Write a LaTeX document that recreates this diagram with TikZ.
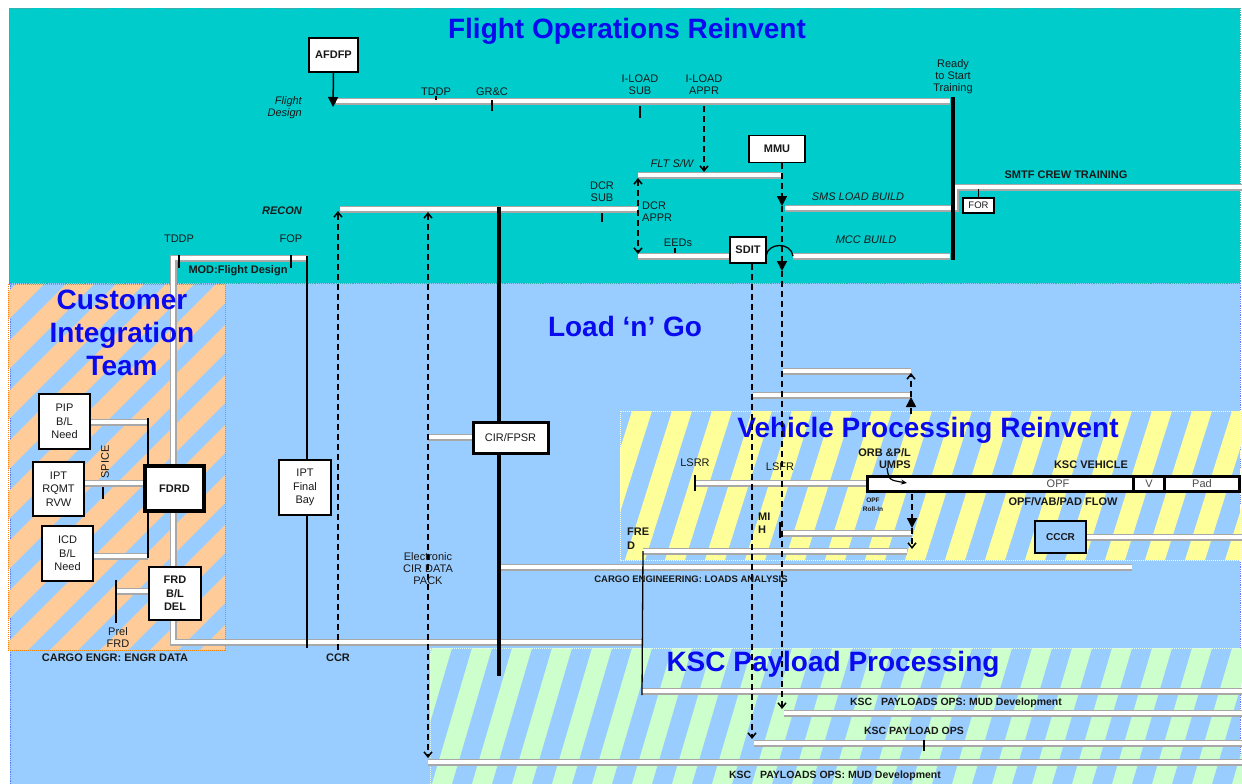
\documentclass[tikz,border=0pt]{standalone}
\usepackage{fontspec}
\setmainfont{Liberation Sans}
\usetikzlibrary{arrows.meta}

\definecolor{topteal}{RGB}{0,204,204}
\definecolor{sky}{RGB}{153,204,255}
\definecolor{peach}{RGB}{255,204,153}
\definecolor{lemon}{RGB}{255,255,153}
\definecolor{mint}{RGB}{204,255,204}
\definecolor{headblue}{RGB}{10,10,238}
\definecolor{bargray}{RGB}{168,168,168}
\definecolor{ink}{RGB}{25,25,25}

\newcommand{\fsz}[2]{\fontsize{#1}{#2}\selectfont}

% drawing order: zones, flow bars, headings, flow lines, boxes and labels
\pgfdeclarelayer{zonelayer}
\pgfdeclarelayer{barlayer}
\pgfdeclarelayer{headlayer}
\pgfdeclarelayer{linelayer}
\pgfsetlayers{zonelayer,barlayer,headlayer,linelayer,main}

\tikzset{
  fat/.tip={Triangle[length=10pt,width=10pt]},
  barb/.tip={Straight Barb[length=5pt,width=8pt]},
  bar/.style={draw=bargray,line width=1.8pt,double=white,double distance=3.4pt},
  box/.style={draw=black,fill=white,line width=1.3pt,inner sep=0pt,align=center,font=\fsz{11}{13.5},text=ink},
  lbl/.style={inner sep=0pt,align=center,font=\fsz{11}{12},text=ink},
  blbl/.style={inner sep=0pt,align=center,font=\bfseries\fsz{11}{12},text=ink},
  ilbl/.style={inner sep=0pt,align=center,font=\itshape\fsz{11}{12},text=ink},
  ttl/.style={inner sep=0pt,align=center,font=\bfseries\fsz{28}{33},text=headblue},
  dashline/.style={line width=1.5pt,dash pattern=on 6pt off 4pt},
  heavy/.style={line width=3.5pt},
  rule/.style={line width=1.3pt},
  tickmark/.style={line width=1.4pt},
}

\begin{document}
\begin{tikzpicture}[x=1pt,y=-1pt]
\useasboundingbox (0,0) rectangle (1242,784);

% ---------- zones ----------
\begin{pgfonlayer}{zonelayer}
\fill[white] (0,0) rectangle (1242,784);
\fill[sky] (10,283) rectangle (1240,784);
\draw[sky!60!blue,densely dotted,line width=0.8pt] (10,784) -- (10,283) (1240,283) -- (1240,784);
\fill[topteal] (9,8) rectangle (1240,283);
\draw[topteal!55!gray,densely dotted,line width=0.9pt] (9,8) rectangle (1240,283);

% customer integration zone
\begin{scope}
  \clip (8,284) rectangle (225,650);
  \foreach \k in {-8,...,4}
    \fill[peach] ({\k*50},650) -- ++(28,0) -- ++(366,-366) -- ++(-28,0) -- cycle;
\end{scope}
\draw[orange,densely dotted,line width=1pt] (8,284) rectangle (225,650);

% vehicle processing zone
\begin{scope}
  \clip (620,411) rectangle (1242,560);
  \foreach \k in {-2,...,16}
    \fill[lemon] ({625+\k*40},560) -- ++(20,0) -- ++(47,-149) -- ++(-20,0) -- cycle;
\end{scope}
\draw[lemon!40!white,densely dotted,line width=1pt] (620,411) rectangle (1240,560);

% payload processing zone
\begin{scope}
  \clip (430,648) rectangle (1242,784);
  \foreach \k in {-2,...,21}
    \fill[mint] ({432+\k*40},784) -- ++(20,0) -- ++(40,-136) -- ++(-20,0) -- cycle;
\end{scope}
\draw[mint!50!white,densely dotted,line width=1pt] (430,784) -- (430,648) -- (1240,648);
\end{pgfonlayer}

% ---------- headings ----------
\begin{pgfonlayer}{headlayer}
\node[ttl] (hfo)  at (627,31)  {Flight Operations Reinvent};
\node[ttl] (hcit) at (122,333) {Customer\\Integration\\Team};
\node[ttl] (hlng) at (625,326) {Load ‘n’ Go};
\node[ttl] (hvp)  at (928,430) {Vehicle Processing Reinvent};
\node[ttl] (hksc) at (833,664) {KSC Payload Processing};
\end{pgfonlayer}

% ---------- boxes ----------
\node[box,font=\bfseries\fsz{11}{13},minimum width=49pt,minimum height=34pt] (afdfp) at (333.5,55) {AFDFP};
\node[box,font=\bfseries\fsz{11}{13},minimum width=56pt,minimum height=27pt] (mmu) at (777,149) {MMU};
\node[box,font=\bfseries\fsz{11}{13},minimum width=36pt,minimum height=26pt] (sdit) at (748,250) {SDIT};
\node[box,font=\fsz{9.5}{11},line width=1.2pt,minimum width=31pt,minimum height=15pt] (for) at (978.5,205.5) {FOR};
\node[box,line width=3pt,minimum width=75pt,minimum height=31pt] (cir) at (510.5,437.5) {CIR/FPSR};
\node[box,minimum width=52pt,minimum height=55pt] (bay) at (305,487.5) {IPT\\Final\\Bay};
\node[box,minimum width=51pt,minimum height=55pt] (pip) at (64.5,421.5) {PIP\\B/L\\Need};
\node[box,minimum width=51pt,minimum height=54pt] (rvw) at (58.5,489) {IPT\\RQMT\\RVW};
\node[box,minimum width=51pt,minimum height=55pt] (icd) at (67.5,553.5) {ICD\\B/L\\Need};
\node[box,font=\bfseries\fsz{11}{13},line width=4pt,minimum width=59pt,minimum height=45pt] (fdrd) at (174.5,488.5) {FDRD};
\node[box,font=\bfseries\fsz{11}{13.5},minimum width=52pt,minimum height=53pt] (frd) at (175,593.5) {FRD\\B/L\\DEL};
\node[box,fill=sky,line width=2pt,font=\bfseries\fsz{10}{12},minimum width=51pt,minimum height=32pt] (cccr) at (1060.5,537) {CCCR};

% ---------- key points of the flows ----------
\coordinate (fdL) at (336,101);   \coordinate (fdR) at (950,101);
\coordinate (fdIn) at (333,107);
\coordinate (fltL) at (638,175);  \coordinate (fltR) at (782,175);
\coordinate (recL) at (340,209);  \coordinate (recR) at (638,209);
\coordinate (smsL) at (785,208);  \coordinate (smsR) at (950,208);
\coordinate (eedL) at (638,256);
\coordinate (hopL) at (766,256);  \coordinate (hopR) at (793,256);
\coordinate (mccR) at (950,256);
\coordinate (smtfJ) at (955,208); \coordinate (smtfC) at (955,187); \coordinate (smtfR) at (1242,187);
\coordinate (rtTop) at (953,97);  \coordinate (rtBot) at (953,260);
\coordinate (modR) at (307,258);  \coordinate (citC) at (173,258);
\coordinate (citB) at (173,642);  \coordinate (engR) at (642,642);
\coordinate (spineL) at (148,418); \coordinate (spineB) at (148,558);
\coordinate (prelT) at (116,580);  \coordinate (prelB) at (116,623);
\coordinate (frdIn) at (116,591);
\coordinate (cirT) at (499,207);   \coordinate (cirB) at (499,676);
\coordinate (cirIn) at (428,437);
\coordinate (bayT) at (307,256);   \coordinate (bayB) at (307,648);
\coordinate (ccrB) at (338,650);   \coordinate (ccrT) at (338,211);
\coordinate (packT) at (428,212);  \coordinate (packB) at (428,758);
\coordinate (dcrT) at (638,178);   \coordinate (dcrB) at (638,254);
\coordinate (ilaT) at (704,106);   \coordinate (ilaB) at (704,172);
\coordinate (mmuA) at (782,206);   \coordinate (mmuB) at (782,271);
\coordinate (mmuE) at (782,709);
\coordinate (sditE) at (752,739);
\coordinate (upA) at (783,371);    \coordinate (upB) at (753,395);
\coordinate (upR) at (911,371);    \coordinate (upR2) at (911,395);
\coordinate (upS) at (911,414);    \coordinate (upM) at (911,397);  \coordinate (upE) at (911,373);
\coordinate (lsrrL) at (695,483);  \coordinate (lsrrR) at (866,483);
\coordinate (dnS) at (912,494);    \coordinate (dnA) at (912,528);  \coordinate (dnB) at (912,549);
\coordinate (mihL) at (780,533);   \coordinate (mihR) at (912,533);
\coordinate (fredL) at (643,551);  \coordinate (fredR) at (907,551);
\coordinate (fredD) at (642,695);
\coordinate (loadL) at (499,567);  \coordinate (loadR) at (1132,567);
\coordinate (cccrR) at (1242,537);
\coordinate (kscA) at (642,691);   \coordinate (kscAR) at (1242,691);
\coordinate (kscB) at (784,713);   \coordinate (kscBR) at (1242,713);
\coordinate (kscC) at (754,743);   \coordinate (kscCR) at (1242,743);
\coordinate (kscD) at (428,762);   \coordinate (kscDR) at (1242,762);

% ---------- flow bars ----------
\begin{pgfonlayer}{barlayer}
\draw[bar] (fdL) -- (fdR);
\draw[bar] (fltL) -- (fltR);
\draw[bar] (recL) -- (recR);
\draw[bar] (smsL) -- (smsR);
\draw[bar] (eedL) -- (sdit.west |- eedL);
\draw[bar] (hopR) -- (mccR);
\draw[bar] (smsR) -- (smtfJ) -- (smtfC) -- (smtfR);
\draw[bar] (modR) -- (citC) -- (citB) -- (engR);
\draw[bar] (pip.east |- 0,422) -- (148,422);
\draw[bar] (rvw.east |- 0,483) -- (fdrd.west |- 0,483);
\draw[bar] (icd.east |- 0,556) -- (148,556);
\draw[bar] (frdIn) -- (frd.west |- frdIn);
\draw[bar] (cirIn) -- (cir.west |- cirIn);
\draw[bar] (upA) -- (upR);
\draw[bar] (upB) -- (upR2);
\draw[bar] (lsrrL) -- (lsrrR);
\draw[bar] (mihL) -- (mihR);
\draw[bar] (fredL) -- (fredR);
\draw[bar] (loadL) -- (loadR);
\draw[bar] (cccr.east) -- (cccrR);
\draw[bar] (kscA) -- (kscAR);
\draw[bar] (kscB) -- (kscBR);
\draw[bar] (kscC) -- (kscCR);
\draw[bar] (kscD) -- (kscDR);
\end{pgfonlayer}

% ---------- solid and dashed flow lines ----------
\begin{pgfonlayer}{linelayer}
\draw[heavy] (rtTop) -- (rtBot);
\draw[heavy] (cirT) -- (cirB);
\draw[rule] (bayT) -- (bayB);
\draw[rule] (spineL) -- (spineB);
\draw[rule] (prelT) -- (prelB);
\draw[rule] (fredL) -- (fredD);
\draw[line width=1.5pt,-fat] (afdfp.south) -- (fdIn);

% tick marks
\draw[tickmark] (436,96) -- (436,100);
\draw[tickmark] (492,100) -- (492,111);
\draw[tickmark] (640,106) -- (640,118);
\draw[tickmark] (602,213) -- (602,222);
\draw[tickmark] (675,248) -- (675,253);
\draw[tickmark] (179,255) -- (179,268);
\draw[tickmark] (291,255) -- (291,268);
\draw[tickmark] (103,487) -- (103,499);
\draw[tickmark] (for.north) -- ++(0,-8);
\draw[tickmark] (695,475) -- (695,491);
\draw[tickmark] (780,522) -- (780,538);
\draw[tickmark] (924,740) -- (924,751);

% dashed flows
\draw[dashline,-barb] (ilaT) -- (ilaB);
\draw[dashline,barb-barb] (dcrT) -- (dcrB);
\draw[dashline,-barb] (ccrB) -- (ccrT);
\draw[dashline,barb-barb] (packT) -- (packB);
\draw[dashline,-fat] (mmu.south -| mmuA) -- (mmuA);
\draw[dashline,-fat] (mmuA) -- (mmuB);
\draw[dashline,-barb] (mmuB) -- (mmuE);
\draw[dashline,-barb] (sdit.south -| sditE) -- (sditE);
\draw[dashline,-fat] (upS) -- (upM);
\draw[dashline,-barb] (upM) -- (upE);
\draw[dashline,-fat] (dnS) -- (dnA);
\draw[dashline,-barb] (dnA) -- (dnB);

% hop of the build line over the MMU flow
\draw[line width=1.3pt] (hopL) .. controls (768,242) and (791,242) .. (hopR);
\end{pgfonlayer}

% ---------- orbiter flow frame ----------
\fill[black] (866,475) rectangle (1241,493);
\node[fill=white,inner sep=0pt,minimum width=263pt,minimum height=12pt] (opfcell) at (1000.5,484) {};
\node[fill=white,inner sep=0pt,minimum width=28pt,minimum height=12pt] (vcell) at (1149,484) {};
\node[fill=white,inner sep=0pt,minimum width=72pt,minimum height=12pt] (padcell) at (1202,484) {};
\node[lbl,text=black!70] (opftxt) at (1058,484) {OPF};
\node[lbl,text=black!70] (vtxt) at (vcell) {V};
\node[lbl,text=black!70] (padtxt) at (padcell) {Pad};
\draw[line width=1.2pt,-{Stealth[length=6pt,width=5pt]}] (887,468) .. controls (889,480) .. (907,483);

% ---------- labels ----------
\node[ilbl,align=right,anchor=east] (lfd) at (302,108) {Flight\\Design};
\node[lbl] (ltddp) at (436,92) {TDDP};
\node[lbl] (lgrc) at (492,92) {GR\&C};
\node[lbl] (lils) at (640,85) {I-LOAD\\SUB};
\node[lbl] (lila) at (704,85) {I-LOAD\\APPR};
\node[lbl] (lrdy) at (953,77) {Ready\\to Start\\Training};
\node[ilbl] (lflt) at (672,164) {FLT S/W};
\node[ilbl] (lsms) at (858,197) {SMS LOAD BUILD};
\node[ilbl] (lmcc) at (866,240) {MCC BUILD};
\node[blbl] (lsmtf) at (1066,175) {SMTF CREW TRAINING};
\node[blbl,font=\bfseries\itshape\fsz{11}{12},anchor=east] (lrecon) at (302,211) {RECON};
\node[lbl] (ldcrs) at (602,192) {DCR\\SUB};
\node[lbl,align=left,anchor=west] (ldcra) at (642,212) {DCR\\APPR};
\node[lbl] (leeds) at (678,243) {EEDs};
\node[lbl] (ltddp2) at (179,239) {TDDP};
\node[lbl] (lfop) at (291,239) {FOP};
\node[blbl] (lmod) at (238,271) {MOD:Flight Design};
\node[lbl,rotate=90] (lspice) at (105,462) {SPICE};
\node[lbl] (lprel) at (118,638) {Prel\\FRD};
\node[blbl] (lcargo) at (115,658) {CARGO ENGR: ENGR DATA};
\node[blbl] (lccr) at (338,658) {CCR};
\node[lbl] (lpack) at (428,569) {Electronic\\CIR DATA\\PACK};
\node[blbl,font=\bfseries\fsz{9.5}{11}] (lloads) at (691,579) {CARGO ENGINEERING: LOADS ANALYSIS};
\node[lbl] (llsrr) at (695,463) {LSRR};
\node[lbl] (llsfr) at (780,467) {LSFR};
\node[blbl,align=right,anchor=east] (lorb) at (911,459) {ORB \&P/L\\UMPS};
\node[blbl] (lkscv) at (1091,465) {KSC VEHICLE};
\node[blbl] (lflow) at (1063,502) {OPF/VAB/PAD FLOW};
\node[blbl,font=\bfseries\fsz{6.5}{9}] (lroll) at (873,505) {OPF\\Roll-In};
\node[blbl,align=left,anchor=west,font=\bfseries\fsz{11}{13}] (lmih) at (758,523) {MI\\H};
\node[blbl,align=left,anchor=west,font=\bfseries\fsz{11}{14}] (lfred) at (627,539) {FRE\\D};
\node[blbl,font=\bfseries\fsz{10.5}{12}] (lmud1) at (956,703) {KSC\ \ \ PAYLOADS OPS: MUD Development};
\node[blbl,font=\bfseries\fsz{10.5}{12}] (lops) at (914,731) {KSC PAYLOAD OPS};
\node[blbl,font=\bfseries\fsz{10.5}{12}] (lmud2) at (835,776) {KSC\ \ \ PAYLOADS OPS: MUD Development};

\end{tikzpicture}
\end{document}
